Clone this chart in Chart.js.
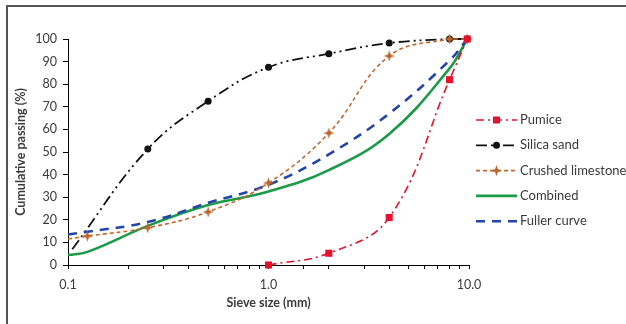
<!DOCTYPE html>
<html>
<head>
<meta charset="utf-8">
<script src="https://cdn.jsdelivr.net/npm/chart.js@4.4.1/dist/chart.umd.min.js"></script>
<style>
  html, body { margin: 0; padding: 0; background: #fff; }
  #wrap { width: 626px; height: 324px; position: relative; }
</style>
</head>
<body>
<div id="wrap"><canvas id="c" width="626" height="324"></canvas></div>
<script>
// ---- data ----
const seriesNames = ["Pumice", "Silica sand", "Crushed limestone", "Combined", "Fuller curve"];
const pumiceSizes = [1, 2, 4, 8, 9.8];
const pumiceValues = [0, 5.2, 21, 82, 100];
const sandSizes = [0.105, 0.25, 0.5, 1, 2, 4, 8, 9.8];
const sandValues = [7, 51.3, 72.5, 87.5, 93.5, 98.2, 100, 100];
const limeSizes = [0.1, 0.125, 0.25, 0.5, 1, 2, 4, 8, 9.8];
const limeValues = [11.5, 12.8, 16.5, 23.5, 36.3, 58.4, 92.5, 100, 100];
const combSizes = [0.1, 0.125, 0.25, 0.5, 1, 2, 4, 8, 9.8];
const combValues = [4.4, 5.8, 17.3, 26.5, 32.5, 42, 58, 87, 100];
const fullerSizes = [0.1, 0.125, 0.25, 0.5, 1, 2, 4, 8, 9.8];
const fullerValues = [13.5, 14.7, 19, 27.5, 35.5, 49, 67, 90.5, 100];
const xTickLabels = ["0.1", "1.0", "10.0"];
const yMin = 0, yMax = 100, yStep = 10;

function pts(xs, ys) { return xs.map((x, i) => ({ x: x, y: ys[i] })); }

// custom four-point star marker
function makeStar(color, size) {
  const c = document.createElement('canvas');
  c.width = size; c.height = size;
  const g = c.getContext('2d');
  const m = size / 2, r = size / 2, ri = size * 0.18;
  g.fillStyle = color;
  g.beginPath();
  for (let i = 0; i < 8; i++) {
    const a = -Math.PI / 2 + i * Math.PI / 4;
    const rr = (i % 2 === 0) ? r : ri;
    const px = m + rr * Math.cos(a), py = m + rr * Math.sin(a);
    if (i === 0) g.moveTo(px, py); else g.lineTo(px, py);
  }
  g.closePath();
  g.fill();
  return c;
}
const star = makeStar('#b8662c', 11);

const FONT = "Lato, 'Open Sans', sans-serif";
const TEXT = '#3a3a3a';

const datasets = [
  { label: seriesNames[0], data: pts(pumiceSizes, pumiceValues),
    borderColor: '#e4102c', backgroundColor: '#e4102c', borderWidth: 1.6,
    borderDash: [8, 4, 2, 4], pointStyle: 'rect', pointRadius: 5, pointBorderWidth: 0,
    tension: 0.4, order: 1 },
  { label: seriesNames[1], data: pts(sandSizes, sandValues),
    borderColor: '#111', backgroundColor: '#111', borderWidth: 1.8,
    borderDash: [11, 4, 2, 4, 2, 4], pointStyle: 'circle',
    pointRadius: (ctx) => ctx.dataIndex === 0 ? 0 : 3.5, pointBorderWidth: 0,
    tension: 0.4, order: 5 },
  { label: seriesNames[2], data: pts(limeSizes, limeValues),
    borderColor: '#c4692e', backgroundColor: '#b8662c', borderWidth: 1.6,
    borderDash: [4, 3], pointStyle: star, pointRadius: (ctx) => ctx.dataIndex === 0 ? 0 : 5,
    tension: 0.4, order: 2 },
  { label: seriesNames[3], data: pts(combSizes, combValues),
    borderColor: '#1b9a48', backgroundColor: '#1b9a48', borderWidth: 2.6,
    borderDash: [], pointRadius: 0, tension: 0.4, order: 4 },
  { label: seriesNames[4], data: pts(fullerSizes, fullerValues),
    borderColor: '#2345a8', backgroundColor: '#2345a8', borderWidth: 2.6,
    borderDash: [9, 7], pointRadius: 0, tension: 0.4, order: 3 }
];

const legendPlugin = {
  id: 'sideLegend',
  afterDraw(chart) {
    const ctx = chart.ctx;
    ctx.save();
    // frame (left & top edges visible)
    ctx.strokeStyle = '#555';
    ctx.lineWidth = 2;
    ctx.beginPath();
    ctx.moveTo(7, 324); ctx.lineTo(7, 6); ctx.lineTo(626, 6);
    ctx.stroke();
    // legend
    const x0 = 476, x1 = 517, tx = 520, y0 = 120, dy = 25.3;
    chart.data.datasets.forEach((ds, i) => {
      const y = y0 + i * dy;
      ctx.save();
      ctx.strokeStyle = ds.borderColor;
      ctx.lineWidth = ds.borderWidth;
      ctx.setLineDash(ds.borderDash || []);
      ctx.beginPath(); ctx.moveTo(x0, y); ctx.lineTo(x1, y); ctx.stroke();
      ctx.restore();
      const cx = (x0 + x1) / 2;
      if (ds.pointStyle === 'rect') {
        ctx.fillStyle = ds.backgroundColor; ctx.fillRect(cx - 3.5, y - 3.5, 7, 7);
      } else if (ds.pointStyle === 'circle') {
        ctx.fillStyle = ds.backgroundColor; ctx.beginPath(); ctx.arc(cx, y, 3.5, 0, Math.PI * 2); ctx.fill();
      } else if (ds.pointStyle instanceof HTMLCanvasElement) {
        ctx.drawImage(ds.pointStyle, cx - 5.5, y - 5.5);
      }
      ctx.fillStyle = TEXT;
      ctx.font = "13px " + FONT;
      ctx.textBaseline = 'middle';
      ctx.textAlign = 'left';
      ctx.fillText(ds.label, tx, y);
    });
    ctx.restore();
  }
};

function isDecade(v, target) {
  return Math.abs(Math.log10(v) - Math.log10(target)) < 1e-6;
}

new Chart(document.getElementById('c'), {
  type: 'line',
  data: { datasets: datasets },
  plugins: [legendPlugin],
  options: {
    responsive: false,
    animation: false,
    devicePixelRatio: 1,
    layout: { padding: { left: 0, top: 39, right: 157, bottom: 0 } },
    plugins: { legend: { display: false }, tooltip: { enabled: false } },
    elements: { line: { capBezierPoints: true }, point: { hoverRadius: 0 } },
    datasets: { line: { clip: 8 } },
    scales: {
      x: {
        type: 'logarithmic', min: 0.1, max: 10,
        afterFit(s) { s.height = 59; },
        border: { display: true, color: '#000', width: 1 },
        grid: { display: true, drawOnChartArea: false, drawTicks: true, tickLength: 4, color: '#000' },
        ticks: {
          autoSkip: false, maxRotation: 0, padding: 8, color: TEXT,
          font: { family: FONT, size: 12.5 },
          callback(v) {
            if (isDecade(v, 0.1)) return xTickLabels[0];
            if (isDecade(v, 1)) return xTickLabels[1];
            if (isDecade(v, 10)) return xTickLabels[2];
            return '';
          }
        },
        title: { display: true, text: 'Sieve size (mm)', color: TEXT,
          font: { family: FONT, size: 12.5, weight: 'bold' }, padding: { top: 0, bottom: 14 } }
      },
      y: {
        min: yMin, max: yMax,
        afterFit(s) { s.width = 68; },
        border: { display: true, color: '#000', width: 1 },
        grid: { display: true, drawOnChartArea: false, drawTicks: true, tickLength: 5, color: '#000' },
        ticks: { stepSize: yStep, padding: 6, color: TEXT, font: { family: FONT, size: 12.5 } },
        title: { display: true, text: 'Cumulative passing (%)', color: TEXT,
          font: { family: FONT, size: 12.5, weight: 'bold' }, padding: { top: 13, bottom: 0 } }
      }
    }
  }
});
</script>
</body>
</html>
